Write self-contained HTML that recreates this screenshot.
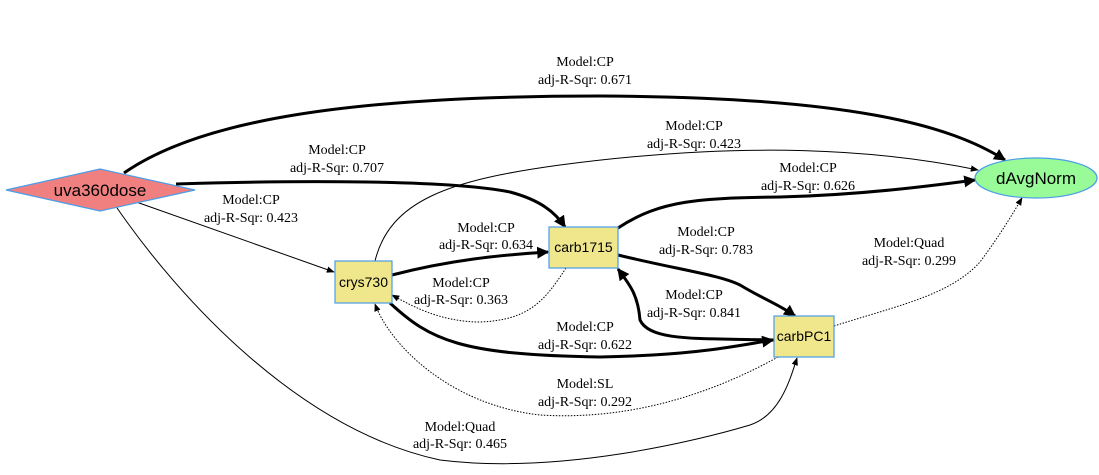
<!DOCTYPE html>
<html><head><meta charset="utf-8"><style>
html,body{margin:0;padding:0;background:#fff;}
svg{display:block;}
.l{font-family:"Liberation Serif",serif;font-size:14px;fill:#000;text-anchor:middle;}
.n{font-family:"Liberation Sans",sans-serif;fill:#000;text-anchor:middle;}
</style></head><body>
<svg width="1099" height="475" viewBox="0 0 1099 475" xmlns="http://www.w3.org/2000/svg">
<defs>
<marker id="ab" viewBox="0 0 10 10" refX="9" refY="5" markerWidth="4" markerHeight="4" orient="auto" markerUnits="strokeWidth"><path d="M0,0L10,5L0,10z" fill="#000"/></marker>
<marker id="at" viewBox="0 0 10 10" refX="9" refY="5" markerWidth="8" markerHeight="8" orient="auto" markerUnits="strokeWidth"><path d="M0,1L10,5L0,9z" fill="#000"/></marker>
</defs>
<g fill="none" stroke="#000">
<path d="M124,173 C200,120 350,96 600,96 C850,97 950,125 1005,160" stroke-width="3" marker-end="url(#ab)"/>
<path d="M176,184 C300,180 450,180 510,192 C540,200 555,212 565,227" stroke-width="3" marker-end="url(#ab)"/>
<path d="M392,275 C450,260 500,255 548,252" stroke-width="3" marker-end="url(#ab)"/>
<path d="M618,228 C660,200 700,198 780,197 C860,195 930,186 975,180" stroke-width="3" marker-end="url(#ab)"/>
<path d="M618,255 C680,270 720,275 740,285 C765,300 780,305 795,316" stroke-width="3" marker-end="url(#ab)"/>
<path d="M774,340 C700,338 650,342 640,320 C638,295 630,285 618,269" stroke-width="3" marker-end="url(#ab)"/>
<path d="M390,303 C430,340 460,355 600,357 C700,355 740,345 773,340" stroke-width="3" marker-end="url(#ab)"/>
<path d="M125,198 L334,272" stroke-width="1" marker-end="url(#at)"/>
<path d="M115,205 C180,300 300,430 440,460 C560,475 700,440 750,425 C780,415 790,380 797,358" stroke-width="1" marker-end="url(#at)"/>
<path d="M375,261 C390,200 450,180 560,165 C750,140 880,150 978,170" stroke-width="1" marker-end="url(#at)"/>
<path d="M566,268 C545,300 530,320 480,322 C440,322 410,305 392,295" stroke-width="1" stroke-dasharray="1.5,1.5" marker-end="url(#at)"/>
<path d="M778,357 C700,400 620,420 540,415 C450,405 390,345 375,304" stroke-width="1" stroke-dasharray="1.5,1.5" marker-end="url(#at)"/>
<path d="M834,326 C900,305 950,295 980,262 C1000,235 1012,215 1022,198" stroke-width="1" stroke-dasharray="1.5,1.5" marker-end="url(#at)"/>
</g>
<polygon points="6,190 100,169 195,190 100,211" fill="#f08080" stroke="#4a9de8" stroke-width="1.2"/>
<text class="n" x="100" y="196" font-size="17">uva360dose</text>
<rect x="335" y="261" width="57" height="42" fill="#f0e68c" stroke="#4a9de8" stroke-width="1.2"/>
<text class="n" x="363.5" y="287" font-size="14">crys730</text>
<rect x="549" y="227" width="69" height="41" fill="#f0e68c" stroke="#4a9de8" stroke-width="1.2"/>
<text class="n" x="583.5" y="252" font-size="14">carb1715</text>
<rect x="774" y="316" width="60" height="41" fill="#f0e68c" stroke="#4a9de8" stroke-width="1.2"/>
<text class="n" x="804" y="341" font-size="14">carbPC1</text>
<ellipse cx="1036" cy="178" rx="61" ry="20" fill="#98fb98" stroke="#4a9de8" stroke-width="1.2"/>
<text class="n" x="1036" y="184" font-size="17">dAvgNorm</text>
<text class="l" x="585" y="66">Model:CP</text><text class="l" x="585" y="84">adj-R-Sqr: 0.671</text>
<text class="l" x="337" y="154">Model:CP</text><text class="l" x="337" y="172">adj-R-Sqr: 0.707</text>
<text class="l" x="251" y="204">Model:CP</text><text class="l" x="251" y="222">adj-R-Sqr: 0.423</text>
<text class="l" x="694" y="130">Model:CP</text><text class="l" x="694" y="148">adj-R-Sqr: 0.423</text>
<text class="l" x="808" y="172">Model:CP</text><text class="l" x="808" y="190">adj-R-Sqr: 0.626</text>
<text class="l" x="486" y="232">Model:CP</text><text class="l" x="486" y="249">adj-R-Sqr: 0.634</text>
<text class="l" x="706" y="236">Model:CP</text><text class="l" x="706" y="254">adj-R-Sqr: 0.783</text>
<text class="l" x="909" y="247">Model:Quad</text><text class="l" x="909" y="265">adj-R-Sqr: 0.299</text>
<text class="l" x="461" y="287">Model:CP</text><text class="l" x="461" y="304">adj-R-Sqr: 0.363</text>
<text class="l" x="694" y="299">Model:CP</text><text class="l" x="694" y="317">adj-R-Sqr: 0.841</text>
<text class="l" x="585" y="331">Model:CP</text><text class="l" x="585" y="349">adj-R-Sqr: 0.622</text>
<text class="l" x="585" y="388">Model:SL</text><text class="l" x="585" y="406">adj-R-Sqr: 0.292</text>
<text class="l" x="460" y="431">Model:Quad</text><text class="l" x="460" y="448">adj-R-Sqr: 0.465</text>
</svg>
</body></html>
